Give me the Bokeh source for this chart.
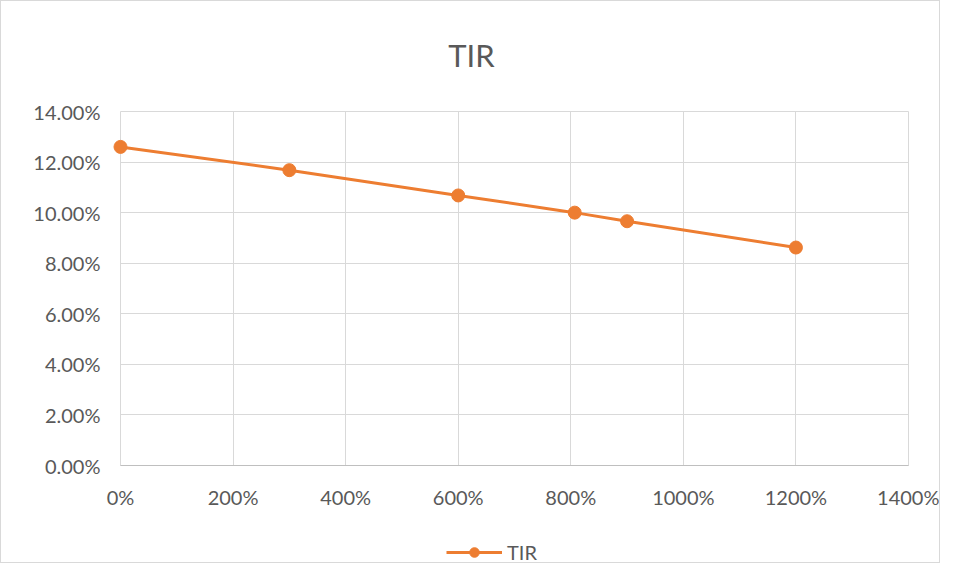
from bokeh.plotting import figure
from bokeh.models import (NumeralTickFormatter, FixedTicker, Range1d, Legend, LegendItem)
from bokeh.embed import file_html
from bokeh.resources import INLINE

# data (x as fraction: 1.0 = 100%)
leverage = [0.0, 3.0, 6.0, 8.07, 9.0, 12.0]
tir = [0.1260, 0.1168, 0.1068, 0.1000, 0.0966, 0.0862]
x_ticks = [0, 2, 4, 6, 8, 10, 12, 14]
y_ticks = [0.0, 0.02, 0.04, 0.06, 0.08, 0.10, 0.12, 0.14]

ORANGE = "#ED7D31"
TEXT = "#595959"
GRID = "#D9D9D9"
FONT = "Lato"

# layout (pixels): the frame spans the whole figure below the title;
# the data box spans [X_LEFT, X_RIGHT] x [Y_TOP_PX, Y_ZERO_PX]
W, H, TOP = 940, 563, 88
X_LEFT, X_RIGHT = 119, 907
Y_TOP_PX, Y_ZERO_PX = 110, 464

xs = (x_ticks[-1] - x_ticks[0]) / (X_RIGHT - X_LEFT)
ys = (y_ticks[-1] - y_ticks[0]) / (Y_ZERO_PX - Y_TOP_PX)
x_start = x_ticks[0] - X_LEFT * xs
x_end = x_ticks[-1] + (W - X_RIGHT) * xs
y_start = y_ticks[0] - (H - Y_ZERO_PX) * ys
y_end = y_ticks[-1] + (Y_TOP_PX - TOP) * ys

p = figure(width=W, height=H, output_backend="svg", toolbar_location=None,
           x_range=Range1d(x_start, x_end), y_range=Range1d(y_start, y_end),
           min_border_left=0, min_border_right=0, min_border_top=TOP,
           min_border_bottom=0)
p.styles = {"border": "1px solid #D9D9D9"}

p.title.text = "TIR"
p.title.align = "center"
p.title.text_font = FONT
p.title.text_font_size = "31px"
p.title.text_font_style = "normal"
p.title.text_color = TEXT
p.title.standoff = 32

p.outline_line_color = None
yg = p.ygrid[0]
yg.ticker = FixedTicker(ticks=y_ticks)
yg.grid_line_color = GRID
yg.cross_bounds = (x_ticks[0], x_ticks[-1])
xg = p.xgrid[0]
xg.ticker = FixedTicker(ticks=x_ticks)
xg.grid_line_color = GRID
xg.cross_bounds = (y_ticks[0], y_ticks[-1])

p.xaxis.fixed_location = y_ticks[0]
p.yaxis.fixed_location = x_ticks[0]
p.xaxis.ticker = FixedTicker(ticks=x_ticks)
p.yaxis.ticker = FixedTicker(ticks=y_ticks)
p.xaxis.formatter = NumeralTickFormatter(format="0%")
p.yaxis.formatter = NumeralTickFormatter(format="0.00%")
p.xaxis.bounds = (x_ticks[0], x_ticks[-1])
p.yaxis.bounds = (y_ticks[0], y_ticks[-1])
for ax in (p.xaxis, p.yaxis):
    ax.axis_line_color = "#BFBFBF"
    ax.major_tick_line_color = None
    ax.minor_tick_line_color = None
    ax.major_tick_out = 0
    ax.major_tick_in = 0
    ax.minor_tick_out = 0
    ax.major_label_text_font = FONT
    ax.major_label_text_font_size = "20px"
    ax.major_label_text_color = TEXT
p.yaxis.axis_line_color = None
p.xaxis.major_label_standoff = 19
p.yaxis.major_label_standoff = 20

ln = p.line(leverage, tir, line_color=ORANGE, line_width=3)
sc = p.scatter(leverage, tir, size=13, fill_color=ORANGE, line_color=ORANGE)

legend = Legend(items=[LegendItem(label="TIR", renderers=[ln, sc])],
                orientation="horizontal", location=(445, 0),
                glyph_width=56, glyph_height=24, label_standoff=5,
                label_text_font=FONT, label_text_font_size="20px",
                label_text_color=TEXT, border_line_color=None,
                background_fill_alpha=0, margin=0, padding=2)
p.add_layout(legend, "center")

open("out.html", "w").write(file_html(p, INLINE))
